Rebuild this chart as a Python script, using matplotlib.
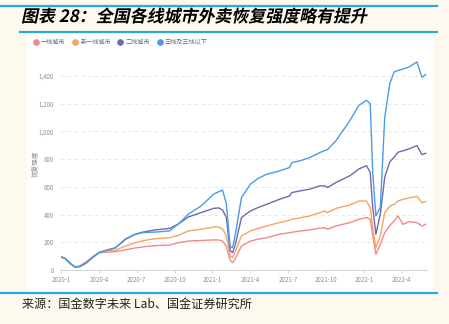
import matplotlib
matplotlib.use("Agg")
import matplotlib.pyplot as plt
from matplotlib.patches import Rectangle
from matplotlib.lines import Line2D
from matplotlib.patheffects import AbstractPathEffect
from matplotlib.transforms import Affine2D

plt.rcParams['font.family'] = ['Noto Sans CJK SC', 'DejaVu Sans']

# months since 2020-01
months = [0, 0.3, 0.7, 1.1, 1.5, 2.0, 2.5, 3.0, 3.5, 4.3, 5.1, 5.8, 6.4, 7.0, 7.5,
          8.6, 9.3, 10.1, 11.1, 12.1, 12.5, 12.8, 13.1, 13.4, 13.6, 13.8, 14.3,
          15.0, 15.6, 16.3, 17.3, 18.1, 18.3, 19.0, 19.7, 20.5, 20.9, 21.1, 21.8,
          22.9, 23.6, 24.2, 24.5, 24.7, 24.95, 25.3, 25.65, 26.05, 26.4, 26.7,
          27.1, 27.6, 28.2, 28.6, 28.9]

tier1 = [94, 85, 50, 22, 30, 60, 95, 124, 128, 132, 145, 158, 166, 172, 176,
         180, 197, 209, 213, 217, 217, 209, 170, 70, 53, 80, 173,
         209, 222, 233, 258, 269, 272, 282, 289, 301, 306, 294, 318,
         342, 366, 378, 366, 250, 113, 186, 269, 320, 354, 390,
         330, 349, 342, 318, 330]

new_tier1 = [94, 85, 50, 22, 28, 55, 92, 125, 135, 142, 173, 195, 209, 220, 226,
             233, 250, 282, 294, 310, 310, 296, 250, 100, 89, 130, 246,
             282, 300, 318, 342, 359, 365, 378, 390, 414, 426, 414, 445,
             470, 498, 498, 451, 300, 161, 246, 414, 460, 474, 498,
             510, 520, 532, 486, 494]

tier2 = [94, 85, 50, 22, 25, 50, 90, 125, 140, 160, 220, 255, 272, 282, 290,
         300, 332, 383, 414, 445, 448, 433, 380, 140, 125, 180, 378,
         426, 450, 474, 510, 534, 559, 572, 583, 607, 607, 595, 632,
         681, 729, 753, 705, 450, 258, 403, 669, 780, 814, 850,
         860, 875, 898, 833, 843]

tier3 = [94, 85, 50, 22, 25, 50, 90, 125, 140, 159, 224, 255, 269, 272, 274,
         282, 332, 404, 462, 548, 565, 576, 480, 170, 161, 250, 522,
         619, 660, 691, 715, 739, 775, 790, 811, 847, 862, 867, 935,
         1080, 1188, 1225, 1200, 700, 391, 451, 1100, 1345, 1430, 1440,
         1450, 1466, 1502, 1391, 1410]

series_names = ['一线城市', '新一线城市', '二线城市', '三线及三线以下']
colors = ['#f08a8e', '#f5a460', '#6e6aae', '#4c9be6']

xtick_pos = [0, 3, 6, 9, 12, 15, 18, 21, 24, 27]
xtick_labels = ['2020-1', '2020-4', '2020-7', '2020-10', '2021-1', '2021-4',
                '2021-7', '2021-10', '2022-1', '2022-4']
ytick_pos = [0, 200, 400, 600, 800, 1000, 1200, 1400]


class Slant(AbstractPathEffect):
    # fake italic: shear each glyph around its own baseline
    def draw_path(self, renderer, gc, tpath, affine, rgbFace=None):
        renderer.draw_path(gc, tpath, Affine2D().skew_deg(12, 0) + affine, rgbFace)


W, H = 449, 324
fig = plt.figure(figsize=(W / 100, H / 100), dpi=100)
fig.patch.set_facecolor('#fdf9ee')

def fx(px):
    return px / W

def fy(py):
    return 1 - py / H

# white panel and cyan rules
fig.add_artist(Rectangle((fx(27), fy(291)), fx(433) - fx(27), fy(33) - fy(291),
                         transform=fig.transFigure, facecolor='white', edgecolor='none', zorder=0))
cyan = '#27a9e1'
fig.add_artist(Line2D([fx(0), fx(437)], [fy(5.5), fy(5.5)], color=cyan, lw=1.6))
fig.add_artist(Line2D([fx(20), fx(437)], [fy(32), fy(32)], color=cyan, lw=1.6))
fig.add_artist(Line2D([fx(0), fx(437)], [fy(292.5), fy(292.5)], color=cyan, lw=1.6))

fig.text(fx(21), fy(17), '图表 28：全国各线城市外卖恢复强度略有提升', fontsize=12.2,
         fontweight='bold', va='center', ha='left', path_effects=[Slant()])
fig.text(fx(22), fy(304), '来源：国金数字未来 Lab、国金证券研究所', fontsize=8.7,
         va='center', ha='left', color='#222222')

ax = fig.add_axes([fx(61), fy(270), fx(427) - fx(61), fy(58) - fy(270)])
ax.set_facecolor('none')
for vals, name, c in zip([tier1, new_tier1, tier2, tier3], series_names, colors):
    ax.plot(months, vals, color=c, lw=1.0, label=name)

ax.set_xlim(0, 29)
ax.set_ylim(0, 1530)
ax.set_yticks(ytick_pos)
ax.set_yticklabels([f'{v:,}' for v in ytick_pos])
ax.set_xticks(xtick_pos)
ax.set_xticklabels(xtick_labels)
ax.tick_params(axis='y', length=0, labelsize=4.4, labelcolor='#8f8f8f', pad=5)
ax.tick_params(axis='x', length=2.5, width=0.5, color='#cccccc', labelsize=4.4,
               labelcolor='#8f8f8f', pad=2)
ax.grid(axis='y', color='#e3e3e3', lw=0.6, ls=(0, (4, 4)))
for s in ['top', 'right', 'left']:
    ax.spines[s].set_visible(False)
ax.spines['bottom'].set_color('#cccccc')
ax.spines['bottom'].set_linewidth(0.6)
ax.set_ylabel('恢复强度', fontsize=4.8, color='#8f8f8f')
ax.yaxis.set_label_coords(-0.058, 0.5)

leg = fig.legend(loc='center left', bbox_to_anchor=(fx(29), fy(42)), ncol=4,
                 frameon=False, fontsize=4.4, handlelength=0.5, handletextpad=0.6,
                 columnspacing=1.3, labelcolor='#666666')
for h, c in zip(leg.legend_handles, colors):
    h.set_linestyle('none')
    h.set_marker('o')
    h.set_markersize(3.8)
    h.set_markerfacecolor(c)
    h.set_markeredgecolor(c)

fig.savefig('out.png', dpi=100, facecolor=fig.get_facecolor())
